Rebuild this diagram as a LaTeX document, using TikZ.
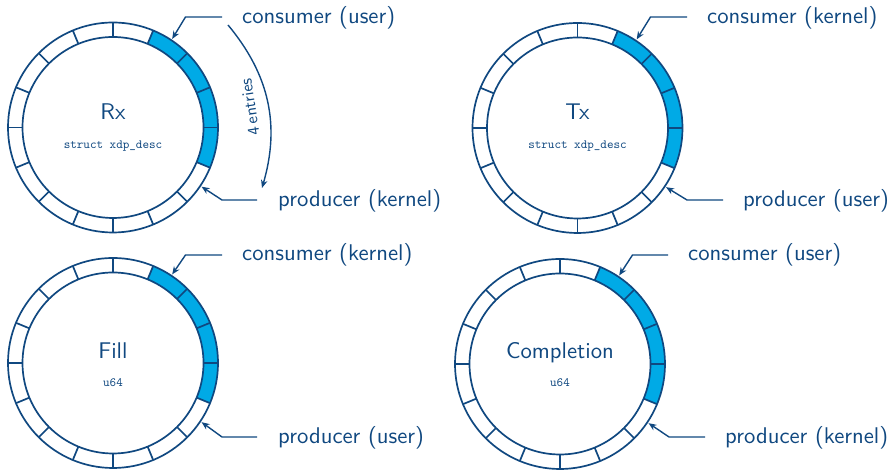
\documentclass[tikz,border=0pt]{standalone}
\usepackage{fontspec}
\setsansfont{lmsans10-regular.otf}
\setmonofont{lmmono10-regular.otf}
\usetikzlibrary{arrows.meta}
\definecolor{ink}{RGB}{16,72,128}
\definecolor{cyanfill}{RGB}{0,170,230}
\tikzset{
 ringline/.style={draw=ink, line width=1.7pt},
 ringfill/.style={fill=cyanfill},
 leader/.style={draw=ink, line width=1.4pt, -{Stealth[length=8pt,width=6.5pt]}},
 lbl/.style={anchor=base west, inner sep=0pt, text=ink, font=\sffamily\fontsize{22.7}{27}\selectfont},
 ttl/.style={anchor=base, inner sep=0pt, text=ink, font=\sffamily\fontsize{22.7}{27}\selectfont},
 typ/.style={anchor=base, inner sep=0pt, text=ink, font=\ttfamily\fontsize{12.5}{15}\selectfont},
 entl/.style={inner sep=0pt, text=ink, font=\sffamily\fontsize{16.7}{20}\selectfont},
}
\newcommand{\ringat}[1]{%
 \begin{scope}[shift={(#1)}]
  \fill[ringfill] (-22.5:90.5) arc[start angle=-22.5,end angle=67.5,radius=90.5] -- (67.5:105) arc[start angle=67.5,end angle=-22.5,radius=105] -- cycle;
  \draw[ringline] (0,0) circle[radius=105] (0,0) circle[radius=90.5];
  \foreach \a in {0,22.5,...,337.5} \draw[ringline] (\a:90.5) -- (\a:105);
  \coordinate (#1ct) at (56.25:106.5);
  \coordinate (#1pt) at (-33.75:106.5);
 \end{scope}}
\begin{document}
\begin{tikzpicture}[x=1pt,y=1pt]
\useasboundingbox (0,0) rectangle (892,470);
\coordinate (rx) at (113,342.5);
\coordinate (tx) at (577.5,342);
\coordinate (fl) at (113,107);
\coordinate (cp) at (560,106);
\ringat{rx}\ringat{tx}\ringat{fl}\ringat{cp}
% titles
\node[ttl] (rxT) at (113,350) {Rx};
\node[typ] (rxS) at (113,321) {struct xdp\_desc};
\node[ttl] (txT) at (577.5,350) {Tx};
\node[typ] (txS) at (577.5,321) {struct xdp\_desc};
\node[ttl] (flT) at (113,111) {Fill};
\node[typ] (flS) at (113,83.3) {u64};
\node[ttl] (cpT) at (560,111) {Completion};
\node[typ] (cpS) at (560,83.3) {u64};
% Rx labels
\node[lbl] (rxC) at (242,446) {consumer (user)};
\coordinate (rxCs) at (222,453); \coordinate (rxCk) at (185.5,453);
\draw[leader] (rxCs) -- (rxCk) -- (rxct);
\node[lbl] (rxP) at (278,263) {producer (kernel)};
\coordinate (rxPs) at (257,270); \coordinate (rxPk) at (222,270);
\draw[leader] (rxPs) -- (rxPk) -- (rxpt);
% 4 entries
\coordinate (ea) at (228,445); \coordinate (eb) at (262,282);
\draw[leader] (ea) to[bend left=28] (eb);
\node[entl, rotate=98.6] (ent) at (250,363) {4\,entries};
% Tx labels
\node[lbl] (txC) at (707,446) {consumer (kernel)};
\coordinate (txCs) at (687,453); \coordinate (txCk) at (650.5,453);
\draw[leader] (txCs) -- (txCk) -- (txct);
\node[lbl] (txP) at (743,263) {producer (user)};
\coordinate (txPs) at (723,270); \coordinate (txPk) at (687,270);
\draw[leader] (txPs) -- (txPk) -- (txpt);
% Fill labels
\node[lbl] (flC) at (242,209) {consumer (kernel)};
\coordinate (flCs) at (222,215); \coordinate (flCk) at (185.5,215);
\draw[leader] (flCs) -- (flCk) -- (flct);
\node[lbl] (flP) at (278,26) {producer (user)};
\coordinate (flPs) at (257,33); \coordinate (flPk) at (222,33);
\draw[leader] (flPs) -- (flPk) -- (flpt);
% Completion labels
\node[lbl] (cpC) at (688,209) {consumer (user)};
\coordinate (cpCs) at (668,215); \coordinate (cpCk) at (632.5,215);
\draw[leader] (cpCs) -- (cpCk) -- (cpct);
\node[lbl] (cpP) at (725,26) {producer (kernel)};
\coordinate (cpPs) at (705,33); \coordinate (cpPk) at (669,33);
\draw[leader] (cpPs) -- (cpPk) -- (cppt);
\end{tikzpicture}
\end{document}
